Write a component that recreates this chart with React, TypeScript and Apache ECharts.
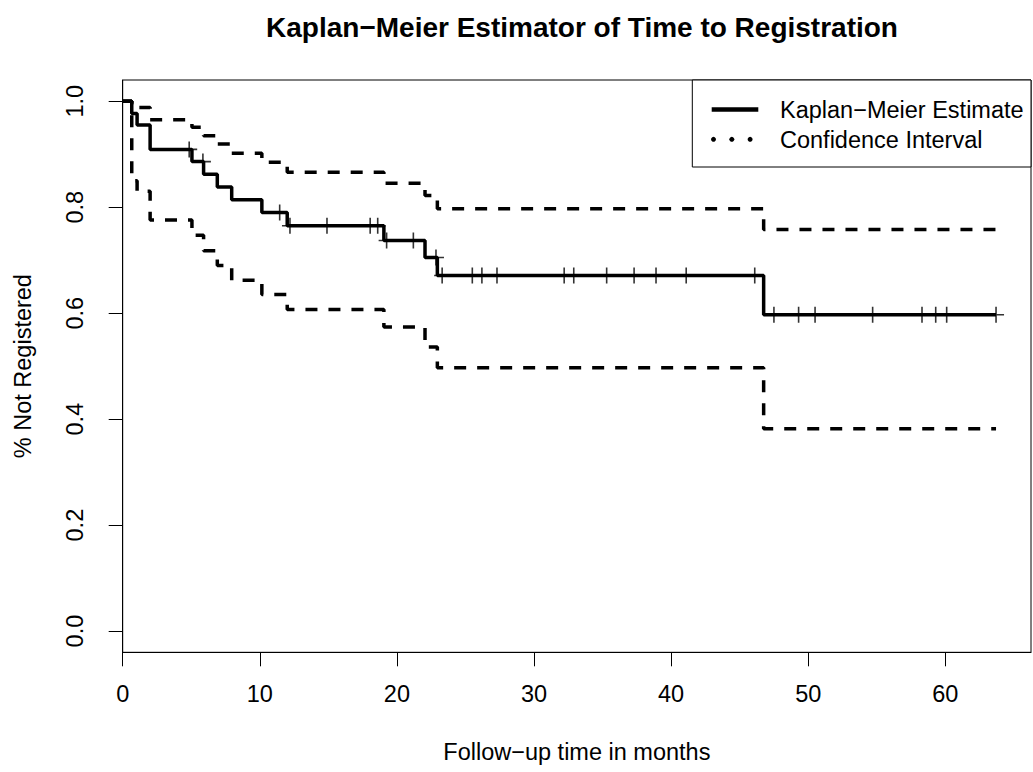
import React, { useEffect, useRef } from "react";
import * as echarts from "echarts";

// Kaplan-Meier step data
const kmTimes = [0.66, 1.05, 2.0, 5.05, 5.9, 6.9, 7.95, 10.15, 12.0, 19.05, 22.05, 22.95, 46.75];
const kmSurv = [0.977, 0.955, 0.909, 0.886, 0.862, 0.838, 0.814, 0.790, 0.765, 0.737, 0.705, 0.671, 0.597];
const ciUpper = [0.997, 0.988, 0.965, 0.951, 0.935, 0.919, 0.902, 0.885, 0.866, 0.845, 0.822, 0.797, 0.758];
const ciLower = [0.850, 0.830, 0.776, 0.747, 0.718, 0.690, 0.662, 0.635, 0.607, 0.574, 0.536, 0.497, 0.382];
const endTime = 63.7;
const censorTimes = [
  4.85, 5.85, 11.45, 12.2, 14.9, 18.05, 18.6, 19.25, 21.2, 22.85, 23.3, 25.5, 26.2, 27.3,
  32.2, 32.9, 35.3, 37.3, 38.9, 41.1, 46.1, 47.5, 49.3, 50.5, 54.7, 58.3, 59.3, 60.1, 63.7,
];
const xTicks = [0, 10, 20, 30, 40, 50, 60];
const yTicks = [0, 0.2, 0.4, 0.6, 0.8, 1.0];

const FONT = "'Liberation Sans', Arial, Helvetica, sans-serif";
const PLUS = "path://M7.2,0H8.8V7.2H16V8.8H8.8V16H7.2V8.8H0V7.2H7.2Z";

function stepPoints(times: number[], values: number[], start: number, end: number) {
  const pts: number[][] = [[0, start]];
  let prev = start;
  times.forEach((t, i) => {
    pts.push([t, prev]);
    pts.push([t, values[i]]);
    prev = values[i];
  });
  pts.push([end, prev]);
  return pts;
}

function levelAt(t: number) {
  let v = 1;
  kmTimes.forEach((et, i) => {
    if (et <= t) v = kmSurv[i];
  });
  return v;
}

export default function App() {
  const ref = useRef<HTMLDivElement>(null);
  useEffect(() => {
    document.body.style.margin = "0";
    const chart = echarts.init(ref.current!, null, { renderer: "svg" });
    const fs = 23.5;
    chart.setOption({
      animation: false,
      textStyle: { fontFamily: FONT },
      title: {
        text: "Kaplan\u2212Meier Estimator of Time to Registration",
        left: 577,
        top: 8,
        textAlign: "center",
        textStyle: { fontSize: 28, fontWeight: "bold", color: "#000", fontFamily: FONT },
      },
      grid: {
        left: 122.7,
        right: 2,
        top: 80,
        bottom: 119.7,
        show: true,
        borderColor: "#000",
        borderWidth: 1,
      },
      xAxis: {
        type: "value",
        min: 0,
        max: 66.25,
        interval: 10,
        name: "Follow\u2212up time in months",
        nameLocation: "middle",
        nameGap: 88,
        nameTextStyle: { fontSize: fs, color: "#000", fontFamily: FONT },
        axisLine: { show: true, onZero: false, lineStyle: { color: "#000", width: 1 } },
        axisTick: { show: true, length: 14, lineStyle: { color: "#000", width: 1 }, customValues: xTicks },
        axisLabel: {
          fontSize: fs,
          color: "#000",
          margin: 30,
          customValues: xTicks,
          formatter: (v: number) => String(v),
        },
        splitLine: { show: false },
      },
      yAxis: {
        type: "value",
        min: -0.04,
        max: 1.04,
        name: "% Not Registered",
        nameLocation: "middle",
        nameGap: 88,
        nameRotate: 90,
        nameTextStyle: { fontSize: fs, color: "#000", fontFamily: FONT },
        axisLine: { show: true, onZero: false, lineStyle: { color: "#000", width: 1 } },
        axisTick: { show: true, length: 14, lineStyle: { color: "#000", width: 1 }, customValues: yTicks },
        axisLabel: {
          fontSize: fs,
          color: "#000",
          margin: 36,
          rotate: 90,
          customValues: yTicks,
          formatter: (v: number) => v.toFixed(1),
        },
        splitLine: { show: false },
      },
      series: [
        {
          name: "Upper",
          type: "line",
          data: stepPoints(kmTimes, ciUpper, 1, endTime),
          showSymbol: false,
          lineStyle: { color: "#000", width: 3.5, type: [12, 11] },
          z: 2,
        },
        {
          name: "Lower",
          type: "line",
          data: stepPoints(kmTimes, ciLower, 1, endTime),
          showSymbol: false,
          lineStyle: { color: "#000", width: 3.5, type: [12, 11] },
          z: 2,
        },
        {
          name: "Kaplan\u2212Meier Estimate",
          type: "line",
          data: stepPoints(kmTimes, kmSurv, 1, endTime),
          showSymbol: false,
          lineStyle: { color: "#000", width: 3.5 },
          z: 3,
        },
        {
          name: "Censored",
          type: "scatter",
          data: censorTimes.map((t) => [t, levelAt(t)]),
          symbol: PLUS,
          symbolSize: 16,
          itemStyle: { color: "#000" },
          z: 4,
        },
      ],
      graphic: [
        {
          type: "group",
          z: 100,
          children: [
            {
              type: "rect",
              shape: { x: 692.3, y: 80, width: 338.7, height: 87 },
              style: { fill: "#fff", stroke: "#000", lineWidth: 1 },
            },
            {
              type: "line",
              shape: { x1: 711.7, y1: 109.5, x2: 758.3, y2: 109.5 },
              style: { stroke: "#000", lineWidth: 4.5 },
            },
            { type: "circle", shape: { cx: 713.5, cy: 139.3, r: 2.5 }, style: { fill: "#000" } },
            { type: "circle", shape: { cx: 731.8, cy: 139.3, r: 2.5 }, style: { fill: "#000" } },
            { type: "circle", shape: { cx: 750.1, cy: 139.3, r: 2.5 }, style: { fill: "#000" } },
            {
              type: "text",
              x: 780,
              y: 110,
              style: {
                text: "Kaplan\u2212Meier Estimate",
                fontSize: fs,
                fontFamily: FONT,
                fill: "#000",
                textVerticalAlign: "middle",
              },
            },
            {
              type: "text",
              x: 780,
              y: 140,
              style: {
                text: "Confidence Interval",
                fontSize: fs,
                fontFamily: FONT,
                fill: "#000",
                textVerticalAlign: "middle",
              },
            },
          ],
        },
      ],
    });
    return () => chart.dispose();
  }, []);
  return <div ref={ref} style={{ width: 1033, height: 772 }} />;
}
